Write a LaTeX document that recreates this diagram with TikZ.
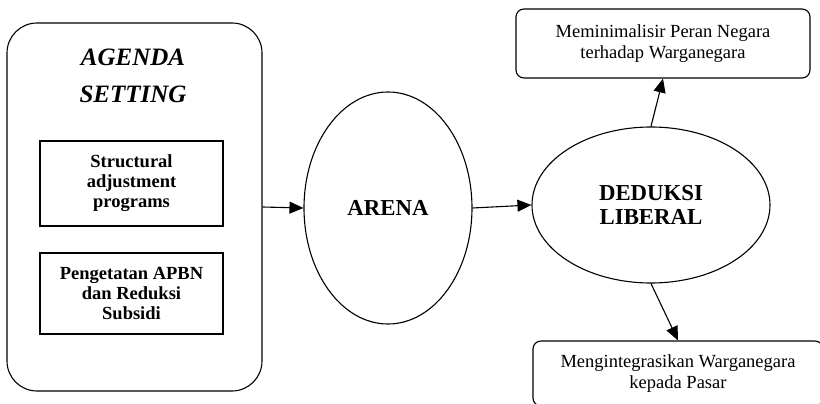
\documentclass[tikz,border=0pt]{standalone}
\usepackage{fontspec}
\setmainfont{Liberation Serif}
\usetikzlibrary{shapes.geometric, arrows.meta, positioning}

\begin{document}
\begin{tikzpicture}[x=1pt,y=-1pt,
        line width=1.1pt,
        arr/.style={-{Triangle[length=14pt,width=12pt]}},
        bigbox/.style={draw, rounded corners=30pt, minimum width=255pt, minimum height=368pt},
        innerbox/.style={draw, minimum width=183pt, align=center, font=\fontsize{18.5}{20}\selectfont\bfseries},
        oval/.style={draw, ellipse, align=center, inner sep=0pt, font=\fontsize{22.8}{24}\selectfont\bfseries},
        outbox/.style={draw, rounded corners=8pt, align=center, font=\fontsize{18.5}{21}\selectfont}]
        % frame of the picture
        \useasboundingbox (0,0) rectangle (820,404);
        \clip (0,0) rectangle (820,404);
        % Agenda setting block
        \node[bigbox] (agenda) at (134.5,207) {};
        \node[align=center, font=\fontsize{25}{37}\selectfont\bfseries\itshape] (agendatitle) at (133,76) {AGENDA\\SETTING};
        \node[innerbox, minimum height=85pt] (sap) at (131.5,183.5) {Structural\\adjustment\\programs};
        \node[innerbox, minimum height=81pt] (apbn) at (131.5,293.5) {Pengetatan APBN\\dan Reduksi\\Subsidi};
        % Arena and deduction
        \node[oval, minimum width=168pt, minimum height=232pt] (arena) at (388,208) {ARENA};
        \node[oval, minimum width=238pt, minimum height=156pt] (deduksi) at (651,205) {DEDUKSI\\LIBERAL};
        % Outcomes
        \node[outbox, minimum width=294pt, minimum height=69pt] (peran) at (663,43.5) {Meminimalisir Peran Negara\\terhadap Warganegara};
        \node[outbox, minimum width=290pt, minimum height=65pt] (pasar) at (678,373.5) {Mengintegrasikan Warganegara\\kepada Pasar};
        % Arrows
        \draw[arr] (agenda.east) -- (arena.west);
        \draw[arr] (arena.east) -- (deduksi.west);
        \draw[arr] (deduksi.north) -- (peran.south);
        \draw[arr] (deduksi.south) -- (pasar.north);
    \end{tikzpicture}
\end{document}
